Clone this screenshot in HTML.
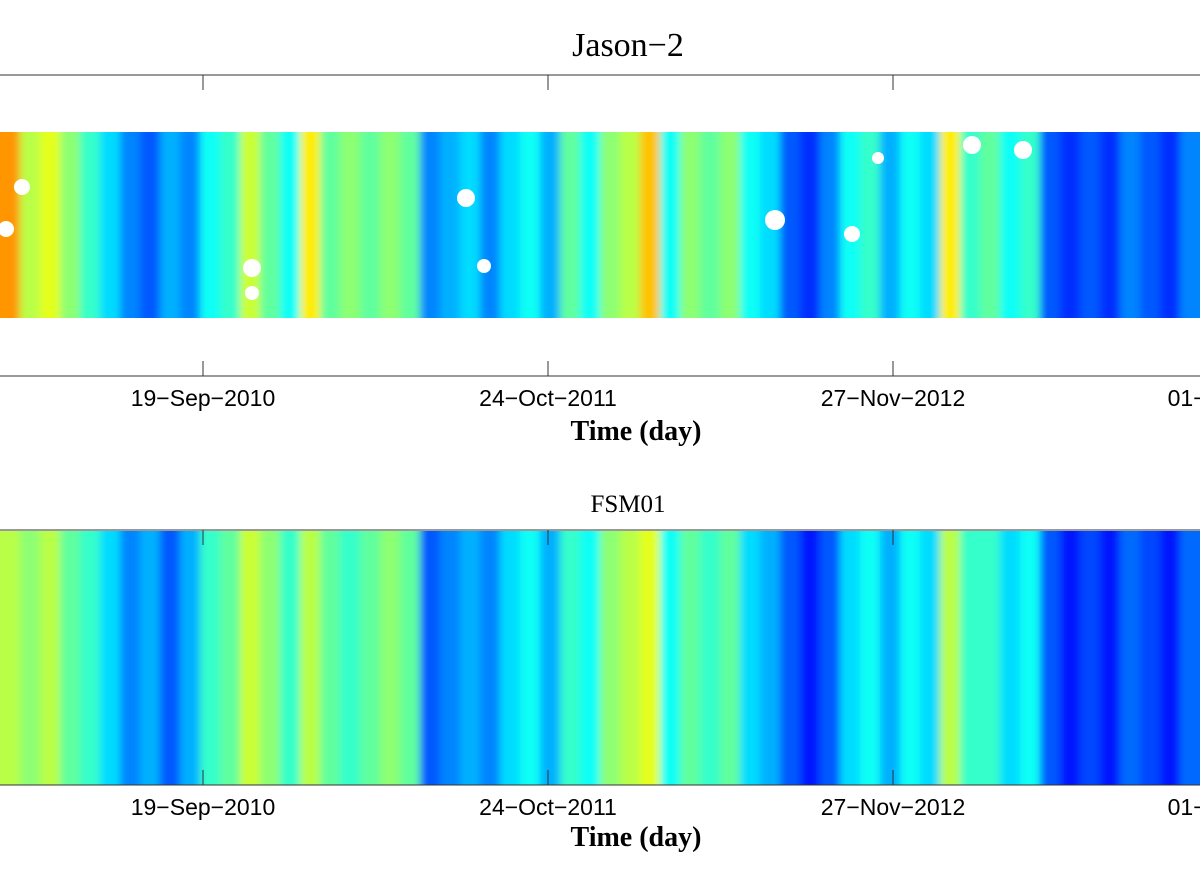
<!DOCTYPE html>
<html><head><meta charset="utf-8"><style>
body{margin:0;background:#fff;width:1200px;height:880px;overflow:hidden}
svg text{font-family:"Liberation Sans",sans-serif}
</style></head><body>
<svg id="c" width="1200" height="880">
<defs>
<filter id="bl" x="-5%" y="0" width="110%" height="100%"><feGaussianBlur stdDeviation="4 0"/></filter>
<clipPath id="cp1"><rect x="0" y="132" width="1200" height="186"/></clipPath>
<clipPath id="cp2"><rect x="0" y="531" width="1200" height="254"/></clipPath>
</defs>
<text x="628" y="56" text-anchor="middle" font-size="34" style="font-family:'Liberation Serif',serif">Jason−2</text>
<text x="628" y="512" text-anchor="middle" font-size="25" style="font-family:'Liberation Serif',serif">FSM01</text>
</svg>
<script>
const tickLabels=["19−Sep−2010","24−Oct−2011","27−Nov−2012","01−Jan−2014"];
const tickPos=[203,548,893,1238];
const jasonVals=[0.8,0.6,0.65,0.55,0.45,0.35,0.25,0.2,0.3,0.25,0.4,0.45,0.62,0.5,0.4,0.7,0.5,0.55,0.5,0.55,0.5,0.25,0.3,0.35,0.25,0.35,0.4,0.3,0.5,0.4,0.55,0.6,0.75,0.4,0.55,0.5,0.55,0.4,0.35,0.2,0.15,0.25,0.4,0.45,0.3,0.4,0.35,0.7,0.45,0.5,0.4,0.45,0.2,0.15,0.2,0.15,0.25,0.2,0.15,0.25];
const fsmVals=[0.6,0.55,0.6,0.5,0.45,0.35,0.25,0.3,0.2,0.3,0.45,0.5,0.62,0.55,0.45,0.6,0.5,0.45,0.5,0.55,0.5,0.2,0.25,0.3,0.25,0.35,0.4,0.3,0.45,0.4,0.55,0.6,0.65,0.4,0.5,0.45,0.5,0.35,0.3,0.2,0.12,0.2,0.35,0.4,0.3,0.4,0.35,0.6,0.45,0.45,0.35,0.4,0.2,0.12,0.18,0.12,0.22,0.18,0.12,0.22];
const NS="http://www.w3.org/2000/svg";
const svg=document.getElementById('c');
function jet(v){
 v=0.04+0.86*v;
 const r=Math.min(1,Math.max(0,Math.min(4*v-1.5,-4*v+4.5)));
 const g=Math.min(1,Math.max(0,Math.min(4*v-0.5,-4*v+3.5)));
 const b=Math.min(1,Math.max(0,Math.min(4*v+0.5,-4*v+2.5)));
 return `rgb(${Math.round(r*255)},${Math.round(g*255)},${Math.round(b*255)})`;
}
function xScale(i,n){return i*1200/n;}
function el(t,a,p){const e=document.createElementNS(NS,t);for(const k in a)e.setAttribute(k,a[k]);(p||svg).appendChild(e);return e;}
function panel(vals,y0,y1,ay0,ay1,labY,titleY,name,clip){
 const n=vals.length;
 const cg=el('g',{'clip-path':`url(#${clip})`});
 const g=el('g',{filter:'url(#bl)'},cg);
 vals.forEach((v,i)=>{
  const w=1200/n;
  const r=el('rect',{x:xScale(i,n)-(i==0?20:0),y:y0,width:w+1+(i==0||i==n-1?20:0),height:y1-y0,fill:jet(v)},g);
  
  
 });
 const f=el('line',{x1:0,y1:ay0,x2:1200,y2:ay0,stroke:'#333','stroke-width':1});
 
 
 const b=el('line',{x1:0,y1:ay1,x2:1200,y2:ay1,stroke:'#333','stroke-width':1});
 
 
 tickLabels.forEach((t,i)=>{
  const x=tickPos[i];
  el('line',{x1:x,y1:ay0,x2:x,y2:ay0+15,stroke:'#333'});
  el('line',{x1:x,y1:ay1,x2:x,y2:ay1-15,stroke:'#333'});
  const tx=el('text',{x:x,y:labY,'text-anchor':'middle','font-size':23});
  tx.textContent=t;
  
  
 });
 const tt=el('text',{x:636,y:titleY,'text-anchor':'middle','font-size':28,'font-weight':'bold',style:"font-family:'Liberation Serif',serif"});
 tt.textContent='Time (day)';
 
 
}
panel(jasonVals,132,318,75,376,406,440,'jason','cp1');
panel(fsmVals,531,785,530,785,815,846,'fsm','cp2');
[[22,187,8],[6,229,8],[252,268,9],[252,293,7],[466,198,9],[484,266,7],[775,220,10],[852,234,8],[972,145,9],[1023,150,9],[878,158,6]].forEach(h=>{
 const c=el('circle',{cx:h[0],cy:h[1],r:h[2],fill:'#fff'});
 
 
});
</script>
</body></html>
